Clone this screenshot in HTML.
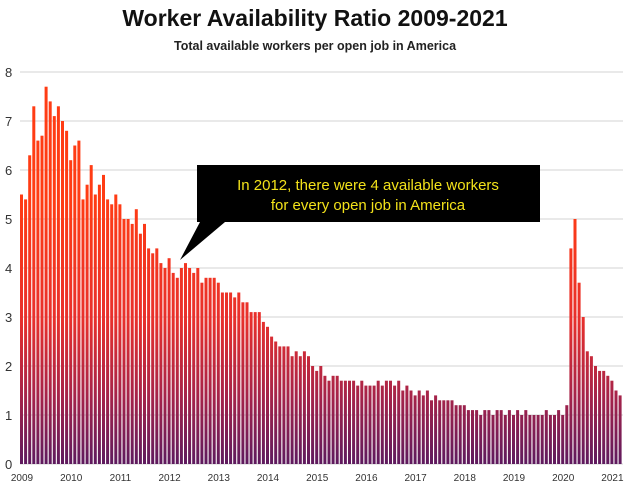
<!DOCTYPE html>
<html><head><meta charset="utf-8"><style>
body{margin:0;background:#fff;width:630px;height:487px;overflow:hidden;font-family:"Liberation Sans",sans-serif}
</style></head><body>
<svg id="s" width="630" height="487" xmlns="http://www.w3.org/2000/svg">
<defs><linearGradient id="g" gradientUnits="userSpaceOnUse" x1="0" y1="464" x2="0" y2="200">
<stop offset="0" stop-color="#5e1a5e"/><stop offset="0.25" stop-color="#a4234a"/><stop offset="0.55" stop-color="#e8302c"/><stop offset="1" stop-color="#ff3c14"/></linearGradient></defs>
<text x="315" y="26" text-anchor="middle" font-size="23" font-weight="bold" fill="#111">Worker Availability Ratio 2009-2021</text>
<text x="315" y="50" text-anchor="middle" font-size="12.5" font-weight="bold" fill="#222">Total available workers per open job in America</text>
<g id="grid"></g><g id="bars"></g><g id="lab" font-size="13" fill="#333"></g>
<g font-size="10" fill="#333" id="xl"></g>
<polygon points="197,165 540,165 540,222 225,222 180,260 200,222 197,222" fill="#000"/>
<text x="368" y="190" text-anchor="middle" font-size="15" fill="#f3e21a">In 2012, there were 4 available workers</text>
<text x="368" y="210" text-anchor="middle" font-size="15" fill="#f3e21a">for every open job in America</text>
</svg>
<script>
var d=[5.5,5.4,6.3,7.3,6.6,6.7,7.7,7.4,7.1,7.3,7.0,6.8,
6.2,6.5,6.6,5.4,5.7,6.1,5.5,5.7,5.9,5.4,5.3,5.5,
5.3,5.0,5.0,4.9,5.2,4.7,4.9,4.4,4.3,4.4,4.1,4.0,
4.2,3.9,3.8,4.0,4.1,4.0,3.9,4.0,3.7,3.8,3.8,3.8,
3.7,3.5,3.5,3.5,3.4,3.5,3.3,3.3,3.1,3.1,3.1,2.9,
2.8,2.6,2.5,2.4,2.4,2.4,2.2,2.3,2.2,2.3,2.2,2.0,
1.9,2.0,1.8,1.7,1.8,1.8,1.7,1.7,1.7,1.7,1.6,1.7,
1.6,1.6,1.6,1.7,1.6,1.7,1.7,1.6,1.7,1.5,1.6,1.5,
1.4,1.5,1.4,1.5,1.3,1.4,1.3,1.3,1.3,1.3,1.2,1.2,
1.2,1.1,1.1,1.1,1.0,1.1,1.1,1.0,1.1,1.1,1.0,1.1,
1.0,1.1,1.0,1.1,1.0,1.0,1.0,1.0,1.1,1.0,1.0,1.1,
1.0,1.2,4.4,5.0,3.7,3.0,2.3,2.2,2.0,1.9,1.9,1.8,
1.7,1.5,1.4];
var ns="http://www.w3.org/2000/svg";
function el(p,t,a,txt){var e=document.createElementNS(ns,t);for(var k in a)e.setAttribute(k,a[k]);if(txt!=null)e.textContent=txt;document.getElementById(p).appendChild(e);}
for(var i=0;i<=8;i++){var y=464-49*i;el("grid","line",{x1:20,x2:623,y1:y,y2:y,stroke:"#e2e2e2","stroke-width":1.5});el("lab","text",{x:5,y:y+5},""+i);}
for(var i=0;i<d.length;i++){var h=d[i]*49;el("bars","rect",{x:(20+i*4.1).toFixed(2),y:(464-h).toFixed(1),width:3,height:h.toFixed(1),fill:"url(#g)"});}
for(var j=0;j<=12;j++){el("xl","text",{x:(22+j*49.2).toFixed(1),y:481,"text-anchor":"middle"},""+(2009+j));}
</script>
</body></html>
